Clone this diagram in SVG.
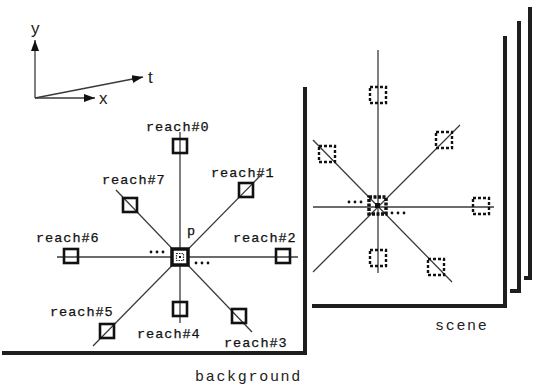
<svg xmlns="http://www.w3.org/2000/svg" width="533" height="392" viewBox="0 0 533 392">
<defs>
<style>
.frame{fill:none;stroke:#1e1e1e;stroke-width:4;stroke-linecap:square}
.ln{stroke:#3a3a3a;stroke-width:1.3;fill:none}
.box{fill:none;stroke:#111;stroke-width:2.6}
.dbox{fill:none;stroke:#111;stroke-width:2.4;stroke-dasharray:3 2}
.lbl{font-family:"Liberation Mono","DejaVu Sans Mono",monospace;font-size:13.5px;letter-spacing:1px;fill:#111;stroke:#111;stroke-width:0.25}
.big{font-family:"Liberation Mono","DejaVu Sans Mono",monospace;font-size:15px;letter-spacing:1.7px;fill:#222}
.ax{font-family:"Liberation Sans","DejaVu Sans",sans-serif;font-size:17px;fill:#222}
.dot{fill:#111}
</style>
<marker id="ah" viewBox="0 0 11 8" refX="11" refY="4" markerWidth="11" markerHeight="8" markerUnits="userSpaceOnUse" orient="auto">
<path d="M0,0 L11,4 L0,8 Z" fill="#111"/>
</marker>
</defs>

<g id="axes">
<line class="ln" x1="35" y1="98" x2="35" y2="40" marker-end="url(#ah)" stroke-width="1.5"/>
<line class="ln" x1="35" y1="98" x2="95" y2="98" marker-end="url(#ah)" stroke-width="1.5"/>
<line class="ln" x1="35" y1="98" x2="143" y2="77" marker-end="url(#ah)" stroke-width="1.5"/>
<text class="ax" x="31" y="34">y</text>
<text class="ax" x="99" y="104">x</text>
<text class="ax" x="148" y="83">t</text>
</g>

<g id="back-panels">
<path class="frame" d="M530,9 V278 H526"/>
<path class="frame" d="M519,23 V291 H512"/>
</g>

<g id="scene">
<path class="frame" d="M505,38 V306 H314"/>
<g class="connectors">
<line class="ln" x1="378" y1="50" x2="378" y2="273"/>
<line class="ln" x1="313" y1="207" x2="494" y2="207"/>
<line class="ln" x1="460" y1="125" x2="313" y2="272"/>
<line class="ln" x1="313" y1="140" x2="452" y2="282"/>
</g>
<rect class="dbox" x="370" y="87" width="16" height="16"/>
<rect class="dbox" x="436" y="132" width="16" height="16"/>
<rect class="dbox" x="473" y="198" width="16" height="16"/>
<rect class="dbox" x="428" y="259" width="16" height="16"/>
<rect class="dbox" x="370" y="250" width="16" height="16"/>
<rect class="dbox" x="319" y="146" width="16" height="16"/>
<rect x="369" y="197" width="17" height="17" fill="none" stroke="#111" stroke-width="3.5" stroke-dasharray="3 1.5"/>
<rect x="375" y="203" width="5" height="5" fill="#111"/>
<circle class="dot" cx="349" cy="202" r="1.4"/><circle class="dot" cx="355" cy="202" r="1.4"/><circle class="dot" cx="361" cy="202" r="1.4"/>
<circle class="dot" cx="392" cy="213" r="1.4"/><circle class="dot" cx="398" cy="213" r="1.4"/><circle class="dot" cx="404" cy="213" r="1.4"/>
<text class="big" x="435" y="330">scene</text>
</g>

<g id="background">
<path class="frame" d="M305,89 V353 H4"/>
<g id="connectors">
<line class="ln" x1="57" y1="257" x2="298" y2="257"/>
<line class="ln" x1="180" y1="132" x2="180" y2="323"/>
<line class="ln" x1="261" y1="175" x2="93" y2="346"/>
<line class="ln" x1="116" y1="190" x2="252" y2="332"/>
</g>
<g id="reach0"><rect class="box" x="173" y="139" width="14" height="14"/><text class="lbl" x="146" y="131">reach#0</text></g>
<g id="reach1"><rect class="box" x="239" y="183" width="14" height="14"/><text class="lbl" x="211" y="177">reach#1</text></g>
<g id="reach2"><rect class="box" x="276" y="249" width="14" height="14"/><text class="lbl" x="233" y="242">reach#2</text></g>
<g id="reach3"><rect class="box" x="232" y="309" width="14" height="14"/><text class="lbl" x="224" y="347">reach#3</text></g>
<g id="reach4"><rect class="box" x="173" y="302" width="14" height="14"/><text class="lbl" x="137" y="338">reach#4</text></g>
<g id="reach5"><rect class="box" x="100" y="324" width="14" height="14"/><text class="lbl" x="50" y="316">reach#5</text></g>
<g id="reach6"><rect class="box" x="64" y="249" width="14" height="14"/><text class="lbl" x="36" y="242">reach#6</text></g>
<g id="reach7"><rect class="box" x="123" y="198" width="14" height="14"/><text class="lbl" x="102" y="184">reach#7</text></g>
<g id="p">
<rect x="172" y="249" width="16" height="16" fill="#fff" stroke="#111" stroke-width="3.5"/>
<rect x="176.5" y="253.5" width="7" height="7" fill="none" stroke="#333" stroke-width="1.2" stroke-dasharray="1.5 1"/>
<rect x="179" y="256" width="2" height="2" fill="#111"/>
<circle class="dot" cx="151" cy="252" r="1.4"/><circle class="dot" cx="157" cy="252" r="1.4"/><circle class="dot" cx="163" cy="252" r="1.4"/>
<circle class="dot" cx="196" cy="263" r="1.4"/><circle class="dot" cx="202" cy="263" r="1.4"/><circle class="dot" cx="208" cy="263" r="1.4"/>
<text class="lbl" x="187" y="235">p</text>
</g>
<text class="big" x="195" y="381">background</text>
</g>
</svg>
